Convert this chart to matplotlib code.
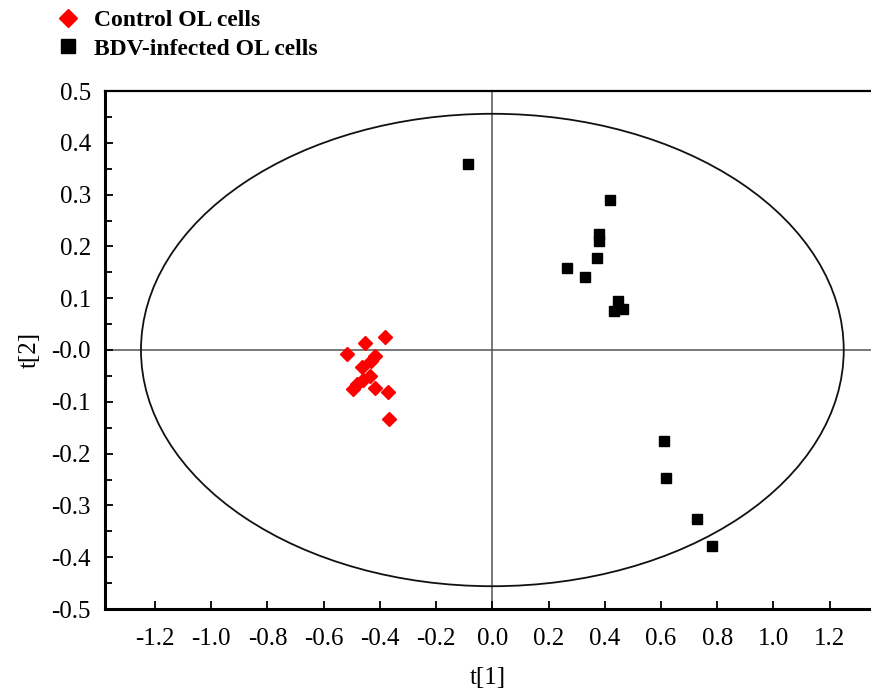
import numpy as np
import matplotlib
matplotlib.use("Agg")
import matplotlib.pyplot as plt
from matplotlib.patches import Ellipse
from matplotlib.ticker import MultipleLocator, FixedLocator

plt.rcParams['font.family'] = ['Liberation Serif', 'DejaVu Serif']

# scores
ctrl_t1 = [-0.382, -0.453, -0.518, -0.418, -0.430, -0.465, -0.436, -0.459, -0.483, -0.495, -0.418, -0.371, -0.368]
ctrl_t2 = [0.025, 0.013, -0.007, -0.012, -0.022, -0.032, -0.050, -0.057, -0.066, -0.076, -0.073, -0.082, -0.133]
bdv_t1 = [-0.086, 0.418, 0.378, 0.378, 0.371, 0.265, 0.329, 0.447, 0.432, 0.465, 0.612, 0.618, 0.728, 0.782]
bdv_t2 = [0.359, 0.289, 0.224, 0.210, 0.178, 0.159, 0.140, 0.094, 0.076, 0.079, -0.176, -0.248, -0.327, -0.378]

# Hotelling T2 ellipse half-axes
ell_a = 1.25
ell_b = 0.456

xticks = [-1.2, -1.0, -0.8, -0.6, -0.4, -0.2, 0.0, 0.2, 0.4, 0.6, 0.8, 1.0, 1.2]
yticks = [-0.5, -0.4, -0.3, -0.2, -0.1, 0.0, 0.1, 0.2, 0.3, 0.4, 0.5]
ylabels = ['-0.5', '-0.4', '-0.3', '-0.2', '-0.1', '-0.0', '0.1', '0.2', '0.3', '0.4', '0.5']

fig = plt.figure(figsize=(8.71, 6.92), dpi=100)
ax = fig.add_axes([105/871, 1-609/692, 1-105/871, (609-91)/692])

ax.axhline(0, color='#555555', lw=1.1, zorder=1)
ax.axvline(0, color='#555555', lw=1.1, zorder=1)
ax.add_patch(Ellipse((0, 0), 2*ell_a, 2*ell_b, fill=False, ec='#111111', lw=1.3, zorder=2))

ax.plot(ctrl_t1, ctrl_t2, 'D', color='#ff0000', ms=7.2, mec='#ff0000', ls='none', zorder=3,
        label='Control OL cells')
ax.plot(bdv_t1, bdv_t2, 's', color='black', ms=7.8, ls='none', zorder=3,
        label='BDV-infected OL cells')

ax.set_xlim(-1.378, 1.347)
ax.set_ylim(-0.5, 0.5)
ax.xaxis.set_major_locator(FixedLocator(xticks))
ax.set_xticklabels(['%.1f' % v for v in xticks])
ax.yaxis.set_major_locator(FixedLocator(yticks))
ax.set_yticklabels(ylabels)
ax.yaxis.set_minor_locator(MultipleLocator(0.05))
ax.tick_params(axis='both', which='major', direction='in', length=6, width=1.3, labelsize=18)
ax.tick_params(axis='x', which='major', pad=14)
ax.tick_params(axis='y', which='major', pad=10)
ax.tick_params(axis='y', which='minor', direction='in', length=5, width=1.3)
ax.tick_params(top=False, right=False)

ax.spines['right'].set_visible(False)
ax.spines['left'].set_linewidth(2.2)
ax.spines['bottom'].set_linewidth(2.2)
ax.spines['top'].set_linewidth(1.6)

ax.set_xlabel('t[1]', fontsize=18, labelpad=12)
ax.set_ylabel('t[2]', fontsize=18, labelpad=8)

fig.legend(loc='upper left', bbox_to_anchor=(0.051, 1.0), frameon=False,
           prop={'weight': 'bold', 'size': 17}, handletextpad=0.5, labelspacing=0.3,
           handlelength=1.2, borderaxespad=0.0, markerscale=1.3)

fig.savefig('out.png', dpi=100)
